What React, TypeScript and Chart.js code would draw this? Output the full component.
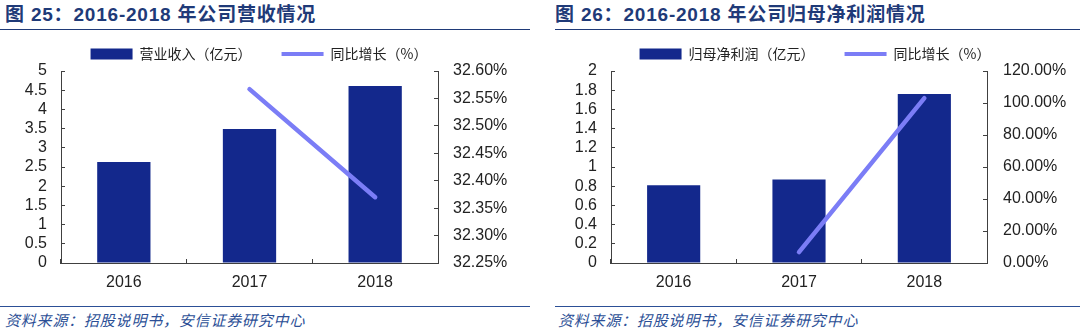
import React, { useEffect, useRef } from 'react';
import { Chart, registerables } from 'chart.js';

Chart.register(...registerables);

// ---- data ----
const years = ['2016', '2017', '2018'];

const revenue = [2.63, 3.49, 4.61];
const revenueGrowth = [null, 32.567, 32.37];
const revenueBarLabel = '营业收入（亿元）';
const revenueLineLabel = '同比增长（%）';
const revenueAxis = { min: 0, max: 5, step: 0.5 };
const revenueGrowthAxis = { min: 32.25, max: 32.6, step: 0.05 };

const profit = [0.81, 0.87, 1.76];
const profitGrowth = [null, 6.8, 103];
const profitBarLabel = '归母净利润（亿元）';
const profitLineLabel = '同比增长（%）';
const profitAxis = { min: 0, max: 2, step: 0.2 };
const profitGrowthAxis = { min: 0, max: 120, step: 20 };

const title25 = '图 25：2016-2018 年公司营收情况';
const title26 = '图 26：2016-2018 年公司归母净利润情况';
const sourceText = '资料来源：招股说明书，安信证券研究中心';

// ---- styles ----
const BAR = '#13288C';
const LINE = '#7B7DF6';
const AXIS = '#404040';
const TEXT = '#222222';
const NAVY = '#1F3A78';
const FOOT = '#2C4F96';
const TICK_FONT = "'Liberation Sans', Arial, sans-serif";
const CJK_FONT = "'Noto Sans CJK SC', 'Liberation Sans', sans-serif";

type ComboProps = {
  left: number; top: number; width: number; height: number;
  bars: number[]; line: (number | null)[];
  barLabel: string; lineLabel: string;
  yAxis: { min: number; max: number; step: number };
  y1Axis: { min: number; max: number; step: number };
  leftW: number; rightW: number;
  leftPad: number; rightPad: number;
};

function ComboChart(p: ComboProps) {
  const ref = useRef<HTMLCanvasElement>(null);
  useEffect(() => {
    const chart = new Chart(ref.current as HTMLCanvasElement, {
      type: 'bar',
      data: {
        labels: years,
        datasets: [
          {
            type: 'bar',
            label: p.barLabel,
            data: p.bars,
            backgroundColor: BAR,
            borderWidth: 0,
            yAxisID: 'y',
            order: 2,
            barPercentage: 0.424,
            categoryPercentage: 1,
          } as any,
          {
            type: 'line',
            label: p.lineLabel,
            data: p.line,
            borderColor: LINE,
            backgroundColor: LINE,
            borderWidth: 4.5,
            borderCapStyle: 'round',
            pointRadius: 0,
            tension: 0,
            yAxisID: 'y1',
            order: 1,
          } as any,
        ],
      },
      options: {
        animation: false,
        responsive: true,
        maintainAspectRatio: false,
        layout: { padding: 0 },
        plugins: {
          tooltip: { enabled: false },
          title: { display: false },
          legend: {
            position: 'top',
            align: 'center',
            labels: {
              usePointStyle: true,
              pointStyleWidth: 42,
              boxHeight: 11,
              padding: 30,
              color: TEXT,
              font: { family: CJK_FONT, size: 14 },
              generateLabels: () => [
                { text: p.barLabel, fillStyle: BAR, strokeStyle: BAR, lineWidth: 0, pointStyle: 'rect', hidden: false, datasetIndex: 0, fontColor: TEXT } as any,
                { text: p.lineLabel, fillStyle: LINE, strokeStyle: LINE, lineWidth: 4, lineCap: 'butt', pointStyle: 'line', hidden: false, datasetIndex: 1, fontColor: TEXT } as any,
              ],
            },
          },
        },
        scales: {
          x: {
            offset: true,
            grid: { offset: true, drawOnChartArea: false, drawTicks: true, tickLength: -4, color: AXIS, tickColor: AXIS },
            border: { display: true, color: AXIS, width: 1 },
            ticks: { color: TEXT, font: { family: TICK_FONT, size: 16 }, padding: 14, maxRotation: 0, autoSkip: false },
            afterFit: (s: any) => { s.height = 36; },
          },
          y: {
            position: 'left',
            min: p.yAxis.min,
            max: p.yAxis.max,
            grid: { drawOnChartArea: false, drawTicks: true, tickLength: -4, color: AXIS, tickColor: AXIS },
            border: { display: true, color: AXIS, width: 1 },
            ticks: {
              stepSize: p.yAxis.step,
              autoSkip: false,
              color: TEXT,
              font: { family: TICK_FONT, size: 16 },
              padding: p.leftPad,
              callback: (v: any) => String(Math.round(Number(v) * 100) / 100),
            },
            afterFit: (s: any) => { s.width = p.leftW; },
          },
          y1: {
            position: 'right',
            min: p.y1Axis.min,
            max: p.y1Axis.max,
            grid: { drawOnChartArea: false, drawTicks: true, tickLength: -4, color: AXIS, tickColor: AXIS },
            border: { display: true, color: AXIS, width: 1 },
            ticks: {
              stepSize: p.y1Axis.step,
              autoSkip: false,
              color: TEXT,
              font: { family: TICK_FONT, size: 16 },
              padding: p.rightPad,
              callback: (v: any) => Number(v).toFixed(2) + '%',
            },
            afterFit: (s: any) => { s.width = p.rightW; },
          },
        },
      } as any,
    });
    return () => chart.destroy();
  }, []);
  return (
    <div style={{ position: 'absolute', left: p.left, top: p.top, width: p.width, height: p.height }}>
      <canvas ref={ref} />
    </div>
  );
}

function Header({ left, lineLeft, width, text }: { left: number; lineLeft: number; width: number; text: string }) {
  return (
    <>
      <div
        style={{
          position: 'absolute', left: left, top: 5, whiteSpace: 'nowrap',
          fontFamily: "'Liberation Sans', 'Noto Sans CJK SC', sans-serif",
          fontWeight: 'bold', fontSize: 19, lineHeight: '20px', letterSpacing: '0.8px', color: NAVY,
        }}
      >
        {text}
      </div>
      <div style={{ position: 'absolute', left: lineLeft, top: 29, width: width, height: 1, background: NAVY }} />
    </>
  );
}

function Footer({ left, lineLeft, lineWidth }: { left: number; lineLeft: number; lineWidth: number }) {
  return (
    <>
      <div style={{ position: 'absolute', left: lineLeft, top: 306, width: lineWidth, height: 1, background: FOOT }} />
      <div
        style={{
          position: 'absolute', left: left, top: 311, whiteSpace: 'nowrap',
          fontFamily: CJK_FONT, fontStyle: 'italic', fontSize: 15, lineHeight: '18px',
          letterSpacing: '0.8px', color: FOOT,
        }}
      >
        {sourceText}
      </div>
    </>
  );
}

export default function App() {
  return (
    <div style={{ position: 'fixed', left: 0, top: 0, width: 1080, height: 335, background: '#ffffff', overflow: 'hidden' }}>
      <Header left={5} lineLeft={0} width={530} text={title25} />
      <Header left={555} lineLeft={555} width={525} text={title26} />
      <ComboChart
        left={0} top={17} width={518} height={282}
        bars={revenue} line={revenueGrowth}
        barLabel={revenueBarLabel} lineLabel={revenueLineLabel}
        yAxis={revenueAxis} y1Axis={revenueGrowthAxis}
        leftW={61} rightW={80} leftPad={18} rightPad={19}
      />
      <ComboChart
        left={555} top={17} width={520} height={282}
        bars={profit} line={profitGrowth}
        barLabel={profitBarLabel} lineLabel={profitLineLabel}
        yAxis={profitAxis} y1Axis={profitGrowthAxis}
        leftW={56} rightW={88} leftPad={18} rightPad={20}
      />
      <Footer left={5} lineLeft={0} lineWidth={530} />
      <Footer left={558} lineLeft={555} lineWidth={525} />
    </div>
  );
}
